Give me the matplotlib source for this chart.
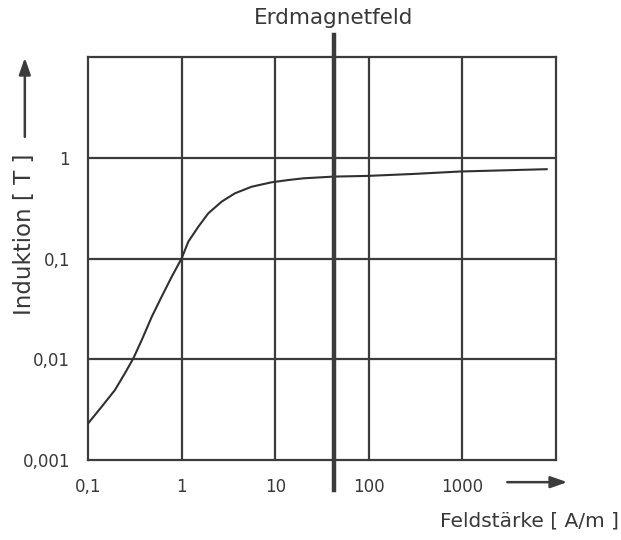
import matplotlib.pyplot as plt

# Magnetisierungskurve (Induktion über Feldstärke), log-log
feld = [0.1, 0.14, 0.194, 0.248, 0.305, 0.375, 0.48, 0.612, 0.784, 1.0,
        1.18, 1.51, 1.93, 2.68, 3.72, 5.61, 9.18, 13.8, 20, 42, 95, 295,
        935, 7950]
induktion = [0.0023, 0.00338, 0.00495, 0.00726, 0.0102, 0.0155, 0.0264,
             0.0418, 0.0659, 0.1, 0.147, 0.207, 0.281, 0.367, 0.444, 0.516,
             0.571, 0.601, 0.625, 0.65, 0.66, 0.69, 0.73, 0.77]

erdfeld = 42  # A/m, Lage der senkrechten Markierung

x_ticks = [0.1, 1, 10, 100, 1000]
x_labels = ["0,1", "1", "10", "100", "1000"]
y_ticks = [0.001, 0.01, 0.1, 1]
y_labels = ["0,001", "0,01", "0,1", "1"]
grid_x = [1, 10, 100, 1000]
grid_y = [0.01, 0.1, 1]

dunkel = "#3c3c3c"
schrift = "#383838"
plt.rcParams["font.family"] = ["DejaVu Sans"]

fig = plt.figure(figsize=(6.21, 5.40), dpi=100)
ax = fig.add_axes([88 / 621, 80 / 540, 468 / 621, 403 / 540])
ax.set_xscale("log")
ax.set_yscale("log")
ax.set_xlim(0.1, 10000)
ax.set_ylim(0.001, 10)

for gx in grid_x:
    ax.axvline(gx, color=dunkel, linewidth=1.6, zorder=1)
for gy in grid_y:
    ax.axhline(gy, color=dunkel, linewidth=1.6, zorder=1)
for s in ax.spines.values():
    s.set_color(dunkel)
    s.set_linewidth(1.6)

ax.plot(feld, induktion, color="#303030", linewidth=1.5, zorder=3)

# Erdmagnetfeld: dicke Linie über den Rahmen hinaus
ax.plot([erdfeld, erdfeld], [-0.074, 1.055], color=dunkel, linewidth=3.2,
        transform=ax.get_xaxis_transform(), clip_on=False, zorder=4)
ax.text(erdfeld, 1.097, "Erdmagnetfeld", transform=ax.get_xaxis_transform(),
        ha="center", va="center", fontsize=15.5, color=schrift)

ax.set_xticks(x_ticks)
ax.set_xticklabels(x_labels)
ax.set_yticks(y_ticks)
ax.set_yticklabels(y_labels)
ax.minorticks_off()
ax.tick_params(length=0, labelsize=12, colors=schrift)
ax.tick_params(axis="x", pad=13)
ax.tick_params(axis="y", pad=13)

# Achsenbeschriftungen mit Pfeilen
ax.text(-0.135, 0.56, "Induktion [ T ]", transform=ax.transAxes, rotation=90,
        ha="center", va="center", fontsize=16.5, color=schrift)
ax.annotate("", xy=(-0.135, 1.005), xytext=(-0.135, 0.795),
            xycoords="axes fraction",
            arrowprops=dict(arrowstyle="-|>,head_width=0.35,head_length=1.0",
                            color=dunkel, lw=1.8))
ax.annotate("", xy=(1.03, -0.055), xytext=(0.89, -0.055),
            xycoords="axes fraction",
            arrowprops=dict(arrowstyle="-|>,head_width=0.35,head_length=1.0",
                            color=dunkel, lw=1.8))
fig.text(619 / 621, 1 - 521 / 540, "Feldstärke [ A/m ]", ha="right",
         va="center", fontsize=14.5, color=schrift)

plt.savefig("out.png", dpi=100)
